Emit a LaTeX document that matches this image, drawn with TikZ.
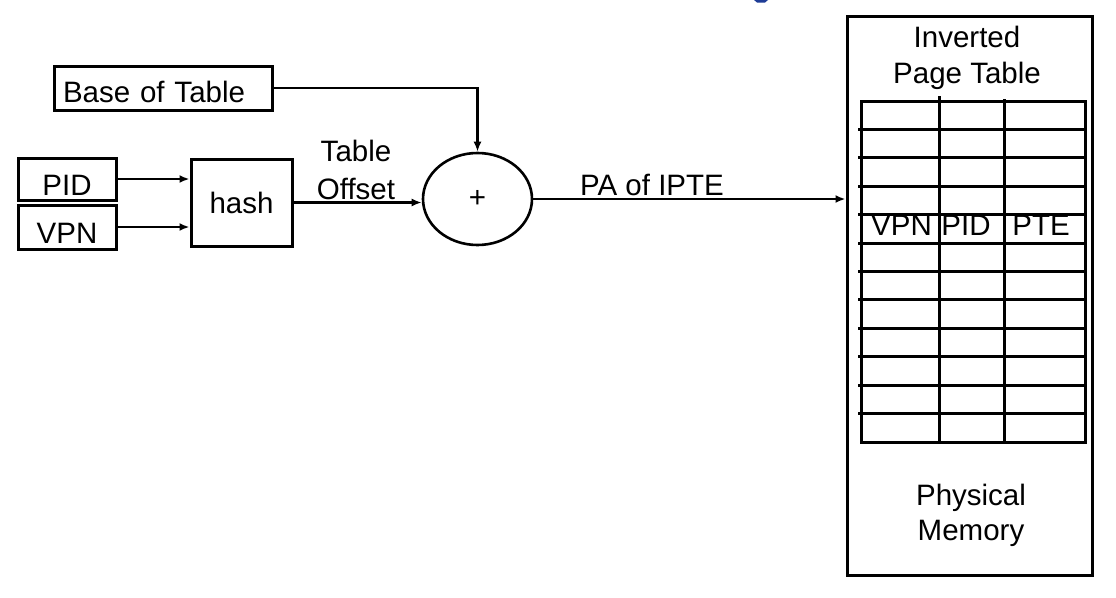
\documentclass[tikz,border=0pt]{standalone}
\usepackage{fontspec}
\setmainfont{Liberation Sans}
\usetikzlibrary{arrows.meta,shapes.geometric}
\definecolor{titleblue}{RGB}{30,60,150}
\begin{document}
\begin{tikzpicture}[x=1pt,y=-1pt,
  lbl/.style={font=\fontsize{29.5}{31}\selectfont},
  box/.style={draw, line width=3pt, inner sep=0pt, lbl},
  conn/.style={line width=2.8pt, -{Latex[length=10pt,width=8pt]}},
  gridline/.style={line width=3pt}]
\useasboundingbox (0,0) rectangle (1116,597);
\fill[white] (0,0) rectangle (1116,597);
% fragment of a cut-off title
\fill[titleblue] (754,0) -- (768,0) -- (765,2.5) -- (757,2.5) -- cycle;

% inputs
\node[box, minimum width=218pt, minimum height=44pt, text width=200pt, inner xsep=9pt,
      align=left, text height=28pt, text depth=0pt] (base) at (163,88) {Base of Table};
\node[box, minimum width=98pt, minimum height=42pt, text height=32pt, text depth=0pt] (pid) at (67,179) {PID};
\node[box, minimum width=98pt, minimum height=44pt, text height=32pt, text depth=0pt] (vpn) at (67,227) {VPN};
\node[box, minimum width=101pt, minimum height=87pt, text height=21pt, text depth=0pt] (hash) at (241.5,202.5) {hash};
\node[draw, ellipse, line width=2.6pt, minimum width=109pt, minimum height=92pt, inner sep=0pt, lbl] (plus) at (477.5,199) {+};

% physical memory and inverted page table
\node[box, minimum width=245pt, minimum height=559pt] (mem) at (969.5,295.5) {};
\node[draw, line width=3pt, minimum width=224pt, minimum height=341pt, inner sep=0pt] (ipt) at (973,271.5) {};
\foreach \i in {1,...,11}
  \draw[gridline] (858,{101+\i*28.417}) -- (ipt.east |- 0,{101+\i*28.417});
\draw[gridline] (939,96) -- (939,442);
\draw[gridline] (1004,99) -- (1004,442);
\node[lbl, anchor=base] (cvpn) at (901.5,235) {VPN};
\node[lbl, anchor=base] (cpid) at (966,235) {PID};
\node[lbl, anchor=base] (cpte) at (1041,235) {PTE};
\node[align=center, font=\fontsize{29.5}{36}\selectfont] (iptt) at (967,57.5) {Inverted\\Page Table};
\node[align=center, font=\fontsize{29.5}{35}\selectfont] (pmt) at (971,515) {Physical\\Memory};

% labels
\node[align=center, font=\fontsize{29.5}{38}\selectfont] (toff) at (356,170) {Table\\Offset};
\node[lbl, anchor=base] (pa) at (652,195) {PA of IPTE};

% connectors
\draw[conn] (base.east) -| (plus.north);
\draw[conn] (pid.east) -- (pid.east -| hash.west);
\draw[conn] (vpn.east) -- (vpn.east -| hash.west);
\draw[conn] (hash.east) -- (hash.east -| plus.west);
\draw[conn] (plus.east) -- (plus.east -| mem.west);
\end{tikzpicture}
\end{document}
